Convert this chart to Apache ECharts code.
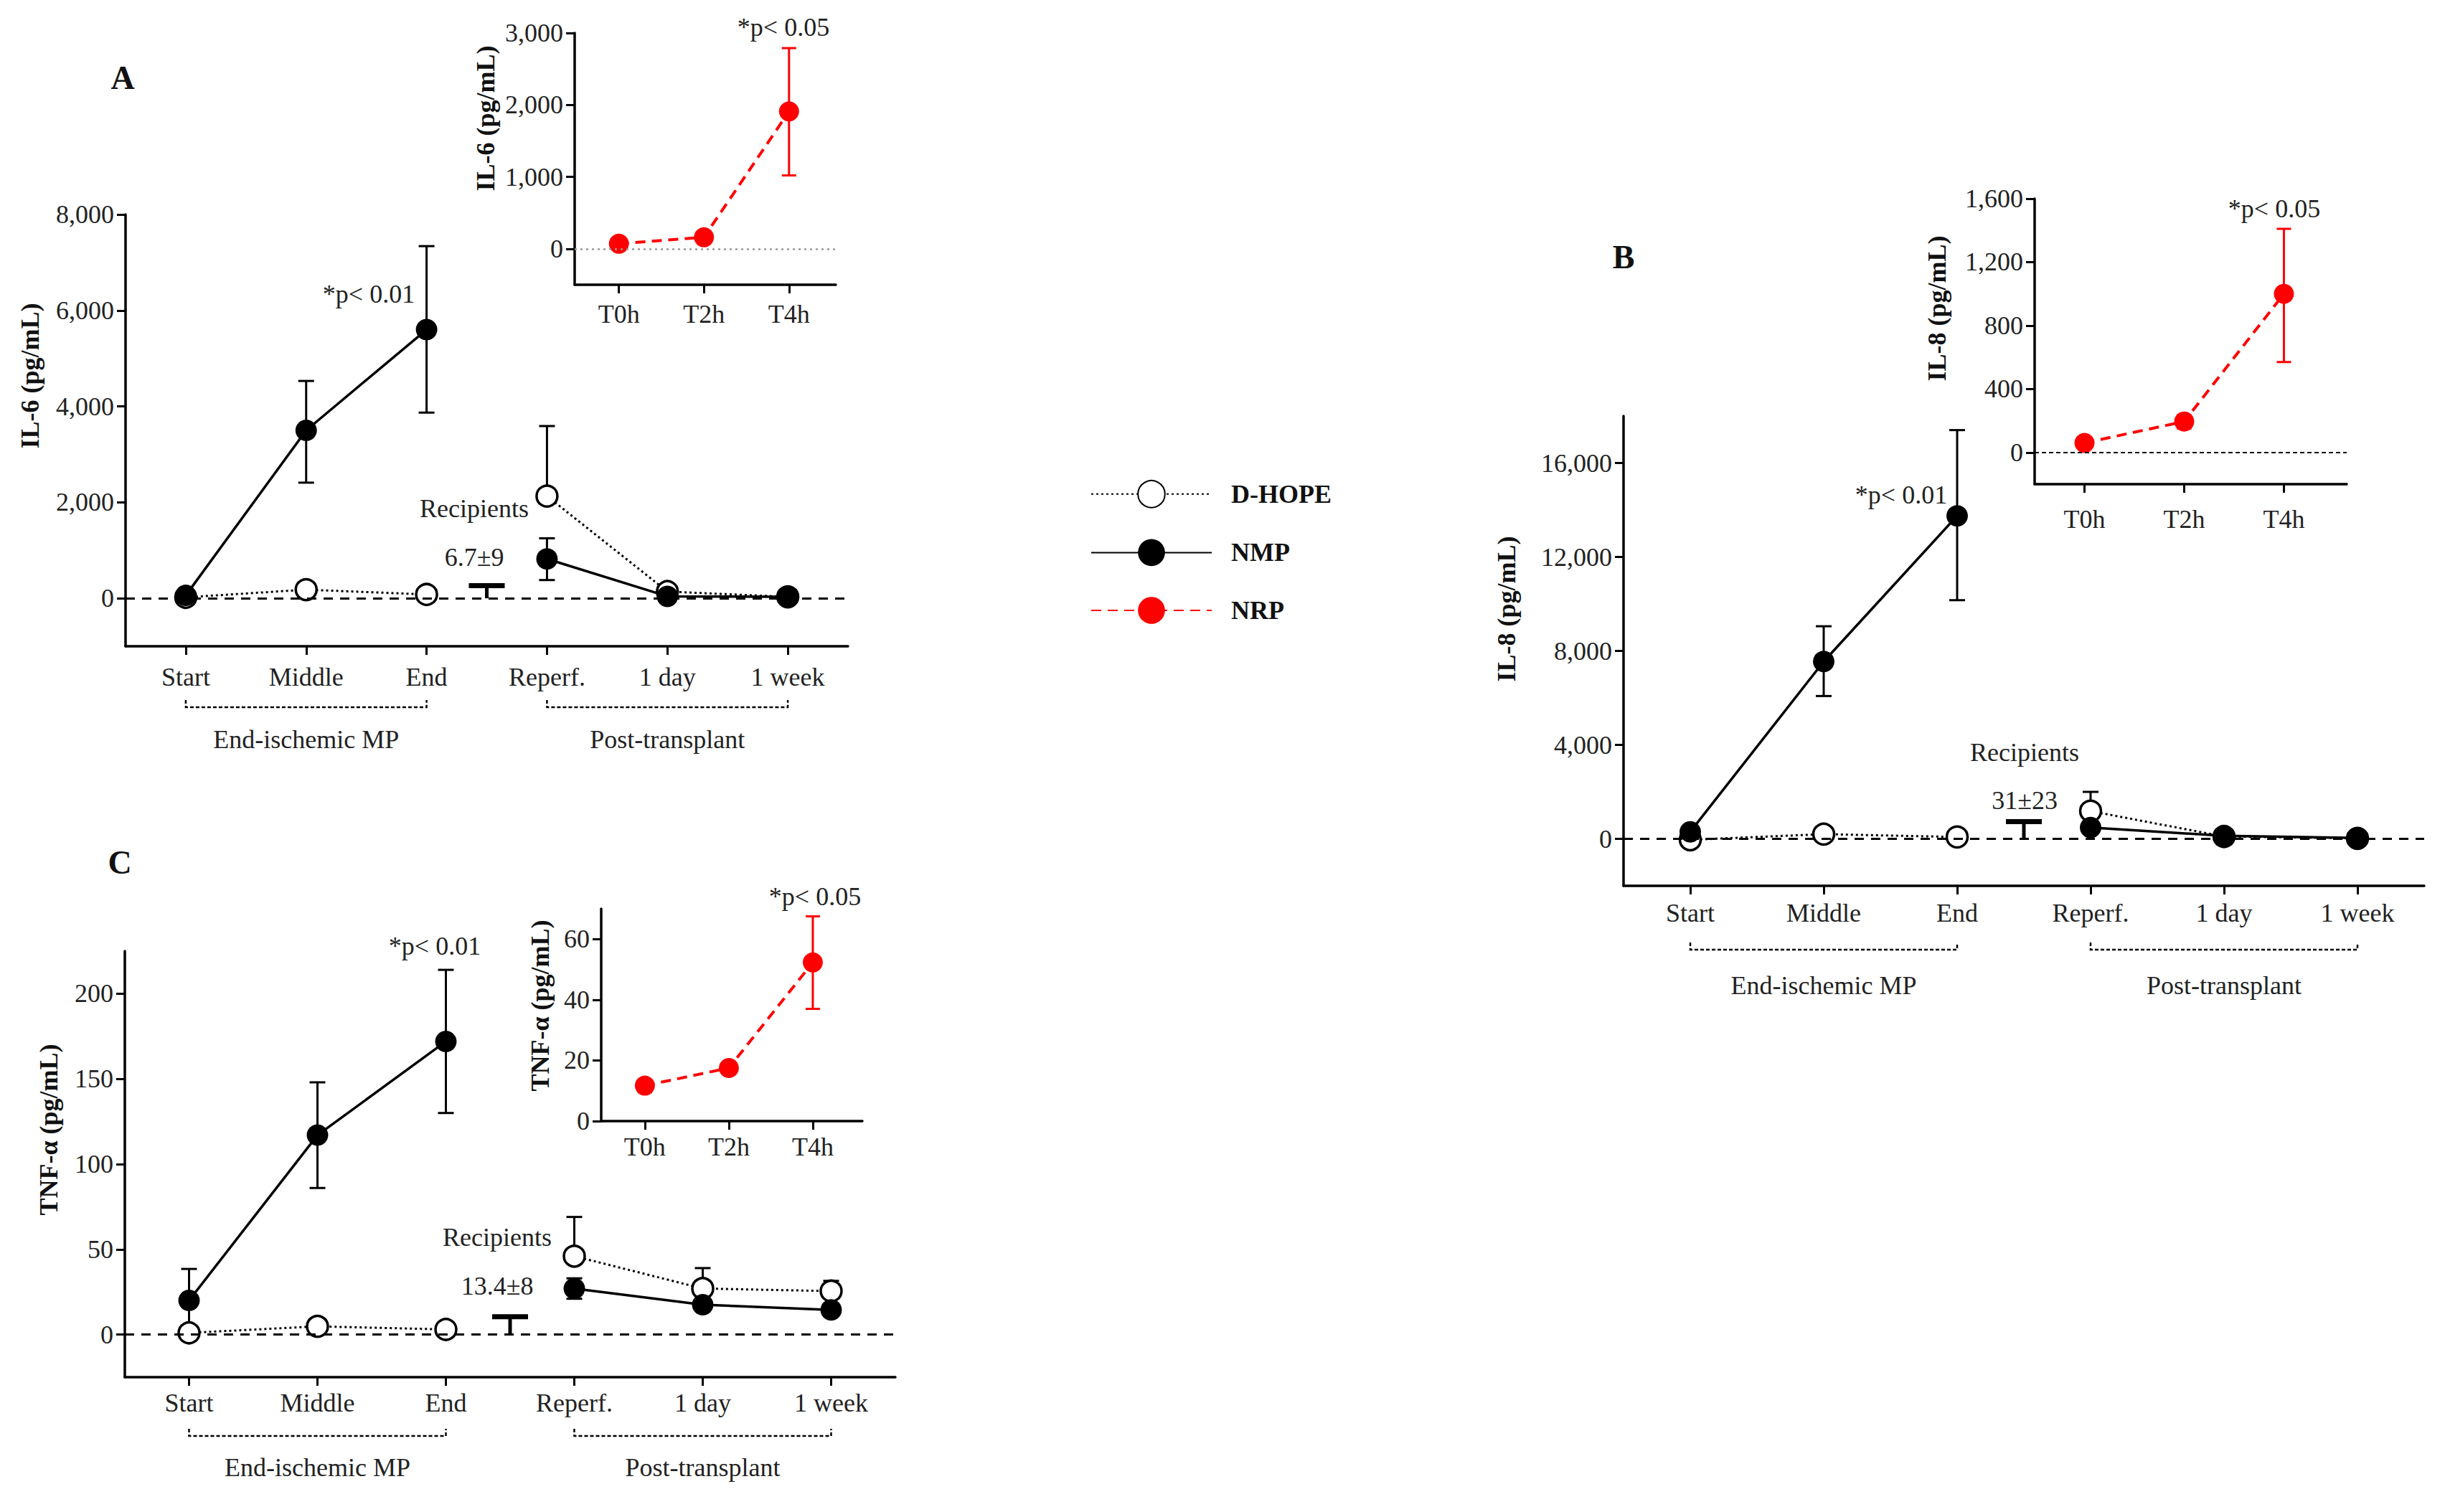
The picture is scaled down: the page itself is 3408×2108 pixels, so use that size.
<!DOCTYPE html>
<html><head><meta charset="utf-8">
<script src="https://cdn.jsdelivr.net/npm/echarts@6/dist/echarts.min.js"></script>
<style>html,body{margin:0;padding:0;background:#fff}#c{width:3408px;height:2108px}</style>
</head><body><div id="c"></div>
<script>
// ---------- DATA ----------
const mainCategories = ['Start', 'Middle', 'End', 'Reperf.', '1 day', '1 week'];
const mainX = [0, 1, 2, 3, 4, 5];
const insetCategories = ['T0h', 'T2h', 'T4h'];
const insetX = [0, 1, 2];
const groupLabels = ['End-ischemic MP', 'Post-transplant'];
const recipientX = 2.5;

// Panel A: IL-6
const il6NMP = [60, 3500, 5600, 820, 40, 30];
const il6NMPLow = [null, 2410, 3870, 380, null, null];
const il6NMPHigh = [null, 4530, 7340, 1250, null, null];
const il6DHOPE = [20, 180, 80, 2130, 140, 30];
const il6DHOPELow = [null, null, null, null, null, null];
const il6DHOPEHigh = [null, null, null, 3590, null, null];
const il6Recipients = 265;
const il6NRP = [70, 160, 1910];
const il6NRPLow = [null, null, 1020];
const il6NRPHigh = [null, null, 2790];
const il6Ticks = [0, 2000, 4000, 6000, 8000];
const il6InsetTicks = [0, 1000, 2000, 3000];

// Panel B: IL-8
const il8NMP = [300, 7550, 13750, 480, 130, 40];
const il8NMPLow = [null, 6080, 10160, null, null, null];
const il8NMPHigh = [null, 9050, 17400, null, null, null];
const il8DHOPE = [-40, 200, 80, 1180, 100, 20];
const il8DHOPELow = [null, null, null, null, null, null];
const il8DHOPEHigh = [null, null, null, 2000, null, null];
const il8Recipients = 730;
const il8NRP = [60, 195, 1000];
const il8NRPLow = [35, 150, 570];
const il8NRPHigh = [90, 235, 1410];
const il8Ticks = [0, 4000, 8000, 12000, 16000];
const il8InsetTicks = [0, 400, 800, 1200, 1600];

// Panel C: TNF-alpha
const tnfNMP = [20, 117, 172, 27, 17.5, 14.5];
const tnfNMPLow = [2, 86, 130, 21, 15, 11];
const tnfNMPHigh = [38.5, 148, 214, 33, 20, 18];
const tnfDHOPE = [1, 4.8, 3, 46, 27, 25.5];
const tnfDHOPELow = [null, null, null, null, null, null];
const tnfDHOPEHigh = [null, null, null, 69, 39, 31.5];
const tnfRecipients = 10.5;
const tnfNRP = [11.7, 17.5, 52.3];
const tnfNRPLow = [9.5, 15.5, 37];
const tnfNRPHigh = [13.5, 19.5, 67.5];
const tnfTicks = [0, 50, 100, 150, 200];
const tnfInsetTicks = [0, 20, 40, 60];

// ---------- HELPERS ----------
const FONT = '"Liberation Serif", "Times New Roman", serif';
const TXT = '#222';
const RED = '#ff0000';
function fmt(v) { return Number(v).toLocaleString('en-US'); }

function brokenLine(vals) {
  const pts = [];
  mainX.forEach((x, i) => {
    pts.push([x, vals[i]]);
    if (x === 2) pts.push([recipientX, '-']);
  });
  return pts;
}
function errData(xs, mean, lo, hi) {
  const out = [];
  xs.forEach((x, i) => {
    if (lo[i] == null && hi[i] == null) return;
    out.push([x, lo[i] == null ? mean[i] : lo[i], hi[i] == null ? mean[i] : hi[i],
      lo[i] == null ? 0 : 1, hi[i] == null ? 0 : 1]);
  });
  return out;
}
function errRender(color, cap, lw) {
  return function (params, api) {
    const x = api.value(0), lo = api.value(1), hi = api.value(2);
    const cl = api.value(3), chh = api.value(4);
    const a = api.coord([x, lo]), b = api.coord([x, hi]);
    const st = { stroke: color, lineWidth: lw };
    const kids = [{ type: 'line', shape: { x1: a[0], y1: a[1], x2: b[0], y2: b[1] }, style: st }];
    if (cl) kids.push({ type: 'line', shape: { x1: a[0] - cap, y1: a[1], x2: a[0] + cap, y2: a[1] }, style: st });
    if (chh) kids.push({ type: 'line', shape: { x1: b[0] - cap, y1: b[1], x2: b[0] + cap, y2: b[1] }, style: st });
    return { type: 'group', children: kids };
  };
}
function recipientRender(params, api) {
  const x = api.value(0), v = api.value(1);
  const t = api.coord([x, v]), z = api.coord([x, 0]);
  return { type: 'group', children: [
    { type: 'line', shape: { x1: t[0], y1: t[1], x2: z[0], y2: z[1] }, style: { stroke: '#000', lineWidth: 5 } },
    { type: 'line', shape: { x1: t[0] - 25, y1: t[1], x2: t[0] + 25, y2: t[1] }, style: { stroke: '#000', lineWidth: 7 } }
  ] };
}
function bracketRender(yMin, off, labOff) {
  return function (params, api) {
    const x0 = api.value(0), x1 = api.value(1), li = api.value(2);
    const a = api.coord([x0, yMin]), b = api.coord([x1, yMin]);
    const y = a[1] + off;
    return { type: 'group', children: [
      { type: 'polyline', shape: { points: [[a[0], y - 10], [a[0], y], [b[0], y], [b[0], y - 10]] },
        style: { stroke: '#000', lineWidth: 2.5, lineDash: [5, 3], fill: null } },
      { type: 'text', x: (a[0] + b[0]) / 2, y: a[1] + labOff,
        style: { text: groupLabels[li], font: '36px ' + FONT, fill: TXT, align: 'center', verticalAlign: 'middle',
                 textAlign: 'center', textVerticalAlign: 'middle' } }
    ] };
  };
}

const option = {
  animation: false,
  backgroundColor: '#fff',
  grid: [], xAxis: [], yAxis: [], series: [], graphic: [],
  legend: {
    orient: 'vertical', left: 1515, top: 664, itemWidth: 168, itemHeight: 47, itemGap: 43,
    selectedMode: false, data: ['D-HOPE', 'NMP', 'NRP'],
    textStyle: { fontFamily: FONT, fontWeight: 'bold', fontSize: 36, color: '#111', padding: [0, 0, 0, 22] }
  }
};

function yAxisCfg(gi, min, max, ticks, margin) {
  return {
    gridIndex: gi, type: 'value', min: min, max: max,
    axisLine: { show: true, onZero: false, lineStyle: { color: '#000', width: 3.5 } },
    axisTick: { show: true, customValues: ticks, length: 12, lineStyle: { color: '#000', width: 3 } },
    axisLabel: { customValues: ticks, formatter: fmt, margin: margin, fontSize: 36, fontFamily: FONT, color: TXT },
    splitLine: { show: false }
  };
}
function xAxisCfg(gi, min, max, xs, cats, margin) {
  return {
    gridIndex: gi, type: 'value', min: min, max: max,
    axisLine: { show: true, onZero: false, lineStyle: { color: '#000', width: 3.5 } },
    axisTick: { show: true, customValues: xs, length: 12, lineStyle: { color: '#000', width: 3 } },
    axisLabel: { customValues: xs, formatter: v => cats[Math.round(v)], margin: margin, fontSize: 36, fontFamily: FONT, color: TXT },
    splitLine: { show: false }
  };
}

function addMain(box, yMin, yMax, ticks, d, m) {
  const gi = option.grid.length;
  option.grid.push(box);
  option.xAxis.push(xAxisCfg(gi, -0.5, 5.5, mainX, mainCategories, m.xMargin));
  option.yAxis.push(yAxisCfg(gi, yMin, yMax, ticks, 16));
  option.series.push({
    type: 'custom', xAxisIndex: gi, yAxisIndex: gi, z: 1, silent: true,
    renderItem: errRender('#000', 11, 3), encode: { x: 0, y: [1, 2] },
    data: errData(mainX, d.dh, d.dhLo, d.dhHi).concat(errData(mainX, d.nmp, d.nmpLo, d.nmpHi))
  });
  option.series.push({
    name: 'D-HOPE', type: 'line', xAxisIndex: gi, yAxisIndex: gi, z: 3,
    data: brokenLine(d.dh), connectNulls: false,
    symbol: 'circle', symbolSize: 29,
    lineStyle: { color: '#000', width: 3, type: [3, 4] },
    itemStyle: { color: '#fff', borderColor: '#000', borderWidth: 3.5 },
    markLine: { silent: true, symbol: ['none', 'none'], label: { show: false },
      lineStyle: { color: '#000', type: [13, 10], width: 3 }, data: [{ yAxis: 0 }] }
  });
  option.series.push({
    name: 'NMP', type: 'line', xAxisIndex: gi, yAxisIndex: gi, z: 4,
    data: brokenLine(d.nmp), connectNulls: false,
    symbol: 'circle', symbolSize: 30,
    lineStyle: { color: '#000', width: 3.5, type: 'solid' },
    itemStyle: { color: '#000', borderColor: '#000', borderWidth: 0 }
  });
  option.series.push({
    type: 'custom', xAxisIndex: gi, yAxisIndex: gi, z: 2, silent: true,
    renderItem: recipientRender, encode: { x: 0, y: 1 },
    data: [[recipientX, d.rec]]
  });
  option.series.push({
    type: 'custom', xAxisIndex: gi, yAxisIndex: gi, z: 2, silent: true, clip: false,
    renderItem: bracketRender(yMin, m.brOff, m.labOff), encode: { x: [0, 1] },
    data: [[0, 2, 0], [3, 5, 1]]
  });
}
function addInset(box, yMin, yMax, xMin, xMax, ticks, d, m) {
  const gi = option.grid.length;
  option.grid.push(box);
  option.xAxis.push(xAxisCfg(gi, xMin, xMax, insetX, insetCategories, m.xMargin));
  option.yAxis.push(yAxisCfg(gi, yMin, yMax, ticks, 16));
  option.series.push({
    type: 'custom', xAxisIndex: gi, yAxisIndex: gi, z: 1, silent: true,
    renderItem: errRender(RED, 10, 3), encode: { x: 0, y: [1, 2] },
    data: errData(insetX, d.nrp, d.lo, d.hi)
  });
  const s = {
    name: 'NRP', type: 'line', xAxisIndex: gi, yAxisIndex: gi, z: 4,
    data: insetX.map((x, i) => [x, d.nrp[i]]),
    symbol: 'circle', symbolSize: 28,
    lineStyle: { color: RED, width: 4, type: [14, 9] },
    itemStyle: { color: RED, borderWidth: 0 }
  };
  if (m.zeroLine) {
    s.markLine = { silent: true, symbol: ['none', 'none'], label: { show: false },
      lineStyle: m.zeroLine, data: [{ yAxis: 0 }] };
  }
  option.series.push(s);
}

// Panel A
addMain({ left: 175, top: 299, width: 1007, height: 602 }, -1000, 8000, il6Ticks,
  { nmp: il6NMP, nmpLo: il6NMPLow, nmpHi: il6NMPHigh, dh: il6DHOPE, dhLo: il6DHOPELow, dhHi: il6DHOPEHigh, rec: il6Recipients },
  { xMargin: 25, brOff: 85, labOff: 130 });
addInset({ left: 801, top: 46, width: 364, height: 351 }, -500, 3000, -0.52, 2.55, il6InsetTicks,
  { nrp: il6NRP, lo: il6NRPLow, hi: il6NRPHigh },
  { xMargin: 23, zeroLine: { color: '#999', type: [3, 5], width: 2.5 } });
// Panel B
addMain({ left: 2263, top: 580, width: 1116, height: 655 }, -2000, 18000, il8Ticks,
  { nmp: il8NMP, nmpLo: il8NMPLow, nmpHi: il8NMPHigh, dh: il8DHOPE, dhLo: il8DHOPELow, dhHi: il8DHOPEHigh, rec: il8Recipients },
  { xMargin: 20, brOff: 89, labOff: 139 });
addInset({ left: 2836, top: 277, width: 435, height: 398 }, -200, 1600, -0.5, 2.63, il8InsetTicks,
  { nrp: il8NRP, lo: il8NRPLow, hi: il8NRPHigh },
  { xMargin: 31, zeroLine: { color: '#000', type: [6, 4], width: 2 } });
// Panel C
addMain({ left: 174, top: 1326, width: 1074, height: 594 }, -25, 225, tnfTicks,
  { nmp: tnfNMP, nmpLo: tnfNMPLow, nmpHi: tnfNMPHigh, dh: tnfDHOPE, dhLo: tnfDHOPELow, dhHi: tnfDHOPEHigh, rec: tnfRecipients },
  { xMargin: 18, brOff: 82, labOff: 126 });
addInset({ left: 838, top: 1267, width: 364, height: 296 }, 0, 70, -0.52, 2.59, tnfInsetTicks,
  { nrp: tnfNRP, lo: tnfNRPLow, hi: tnfNRPHigh },
  { xMargin: 18, zeroLine: null });

// Texts (panel letters, axis titles, annotations)
function txt(x, y, s, size, bold, rot) {
  const el = { type: 'text', x: x, y: y, z: 10,
    style: { text: s, font: (bold ? 'bold ' : '') + size + 'px ' + FONT, fill: bold ? '#111' : TXT,
      align: 'center', verticalAlign: 'middle', textAlign: 'center', textVerticalAlign: 'middle' } };
  if (rot) el.rotation = Math.PI / 2;
  return el;
}
option.graphic = [
  txt(171, 108, 'A', 46, true), txt(2263, 358, 'B', 46, true), txt(167, 1202, 'C', 46, true),
  txt(42, 524, 'IL-6 (pg/mL)', 36, true, true),
  txt(677, 165, 'IL-6 (pg/mL)', 36, true, true),
  txt(2100, 849, 'IL-8 (pg/mL)', 36, true, true),
  txt(2700, 430, 'IL-8 (pg/mL)', 36, true, true),
  txt(68, 1575, 'TNF-α (pg/mL)', 36, true, true),
  txt(753, 1402, 'TNF-α (pg/mL)', 36, true, true),
  txt(514, 410, '*p< 0.01', 36), txt(1092, 38, '*p< 0.05', 36),
  txt(661, 709, 'Recipients', 36), txt(661, 777, '6.7±9', 36),
  txt(2650, 690, '*p< 0.01', 36), txt(3170, 291, '*p< 0.05', 36),
  txt(2822, 1049, 'Recipients', 36), txt(2822, 1116, '31±23', 36),
  txt(606, 1319, '*p< 0.01', 36), txt(1136, 1250, '*p< 0.05', 36),
  txt(693, 1725, 'Recipients', 36), txt(693, 1793, '13.4±8', 36)
];

const chart = echarts.init(document.getElementById('c'), null, { renderer: 'svg', width: 3408, height: 2108 });
chart.setOption(option);
</script></body></html>
